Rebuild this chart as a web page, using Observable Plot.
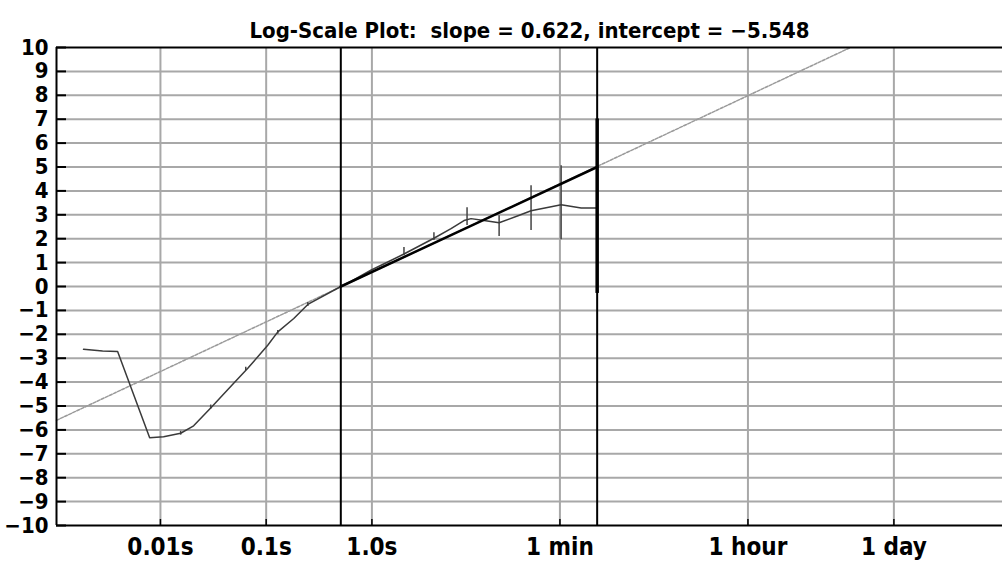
<!DOCTYPE html>
<html>
<head>
<meta charset="utf-8">
<script src="https://cdn.jsdelivr.net/npm/d3@7"></script>
<script src="https://cdn.jsdelivr.net/npm/@observablehq/plot@0.6"></script>
<style>
  body { margin: 0; background: #fff; }
  svg { display: block; }
</style>
</head>
<body>
<div id="chart"></div>
<script>
// ---- data ----
const titleText = "Log-Scale Plot:  slope = 0.622, intercept = \u22125.548";

// x tick positions (seconds) and their labels
const xTickValues = [0.01, 0.1, 1, 60, 3600, 86400];
const xTickLabels = ["0.01s", "0.1s", "1.0s", "1 min", "1 hour", "1 day"];
const yTickValues = [-10, -9, -8, -7, -6, -5, -4, -3, -2, -1, 0, 1, 2, 3, 4, 5, 6, 7, 8, 9, 10];
const xDomain = [0.00104, 920000];
const yDomain = [-10, 10];

// measured curve (time in seconds, value)
const curveT = [0.001875, 0.002837, 0.003936, 0.00791, 0.01072, 0.01553, 0.0206, 0.02987, 0.0493, 0.067, 0.1035, 0.1288, 0.1824, 0.2477, 0.508,
                0.633, 0.978, 2.01, 3.86, 5.6, 7.43, 8.66, 11.5, 15.96, 24.1, 32.0, 49.6, 61.6, 95.3, 132];
const curveY = [-2.63, -2.70, -2.72, -6.33, -6.29, -6.14, -5.83, -5.08, -4.05, -3.42, -2.46, -1.90, -1.34, -0.75, 0.0,
                0.21, 0.68, 1.36, 2.02, 2.42, 2.76, 2.84, 2.76, 2.67, 2.96, 3.17, 3.34, 3.42, 3.28, 3.28];

// error bars
const errT  = [0.01553, 0.02987, 0.0641, 0.1288, 0.2477, 2.01, 3.86, 7.94, 15.96, 32.0, 61.6];
const errLo = [-6.22, -5.13, -3.51, -2.0, -0.84, 1.29, 1.92, 2.55, 2.09, 2.34, 1.96];
const errHi = [-6.06, -4.96, -3.38, -1.84, -0.67, 1.63, 2.25, 3.30, 2.96, 4.22, 5.05];
// final (wide) error bar at the end of the fit range
const lastErrT = [135];
const lastErrLo = [-0.29];
const lastErrHi = [7.01];

// fit range and fitted line
const rangeT = [0.508, 135];
const fitFullT = [0.00104, 33554];
const fitFullY = [-5.60, 10];
const fitRangeY = [0.0, 5.0];

const curve = curveT.map((t, i) => ({t, y: curveY[i]}));
const errs = errT.map((t, i) => ({t, lo: errLo[i], hi: errHi[i]}));
const lastErr = lastErrT.map((t, i) => ({t, lo: lastErrLo[i], hi: lastErrHi[i]}));
const fitFull = fitFullT.map((t, i) => ({t, y: fitFullY[i]}));
const fitRange = rangeT.map((t, i) => ({t, y: fitRangeY[i]}));

const font = "'DejaVu Sans Condensed', 'DejaVu Sans', 'Liberation Sans', sans-serif";
const bottomTickLen = 0.25;

const chart = Plot.plot({
  width: 1002,
  height: 562,
  marginTop: 47,
  marginBottom: 37,
  marginLeft: 56,
  marginRight: 0,
  style: {fontFamily: font, fontWeight: "bold", fontSize: "22px", color: "#000", background: "#fff"},
  x: {type: "log", domain: xDomain, axis: null},
  y: {domain: yDomain},
  marks: [
    Plot.ruleX(xTickValues, {stroke: "#a8a8a8", strokeWidth: 2}),
    Plot.ruleY(yTickValues.slice(1, -1), {stroke: "#a8a8a8", strokeWidth: 2}),
    Plot.axisY(yTickValues, {tickSize: -10, tickPadding: 18, stroke: "#000", strokeWidth: 2, label: null, fontSize: 22}),
    Plot.ruleX(xTickValues, {x: d => d, y1: yDomain[0], y2: yDomain[0] + bottomTickLen, stroke: "#000", strokeWidth: 1.5}),
    Plot.text(xTickValues, {x: d => d, text: (d, i) => xTickLabels[i], frameAnchor: "bottom", lineAnchor: "top",
      dy: 12, fontSize: 24, fontWeight: "bold", fill: "#000"}),
    Plot.line(fitFull, {x: "t", y: "y", stroke: "#9a9a9a", strokeWidth: 1.5, strokeDasharray: "3,1.5"}),
    Plot.ruleX(errs, {x: "t", y1: "lo", y2: "hi", stroke: "#444", strokeWidth: 1.5}),
    Plot.line(curve, {x: "t", y: "y", stroke: "#3a3a3a", strokeWidth: 1.5}),
    Plot.ruleX(rangeT, {stroke: "#000", strokeWidth: 2}),
    Plot.ruleX(lastErr, {x: "t", y1: "lo", y2: "hi", stroke: "#000", strokeWidth: 3.5}),
    Plot.line(fitRange, {x: "t", y: "y", stroke: "#000", strokeWidth: 2.5}),
    Plot.ruleY([yDomain[0], yDomain[1]], {stroke: "#000", strokeWidth: 2}),
    Plot.ruleX([xDomain[0]], {stroke: "#000", strokeWidth: 2}),
    Plot.text([titleText], {frameAnchor: "top", dy: -25, fontSize: 22, fontWeight: "bold", fill: "#000"})
  ]
});
document.getElementById("chart").appendChild(chart);
</script>
</body>
</html>
